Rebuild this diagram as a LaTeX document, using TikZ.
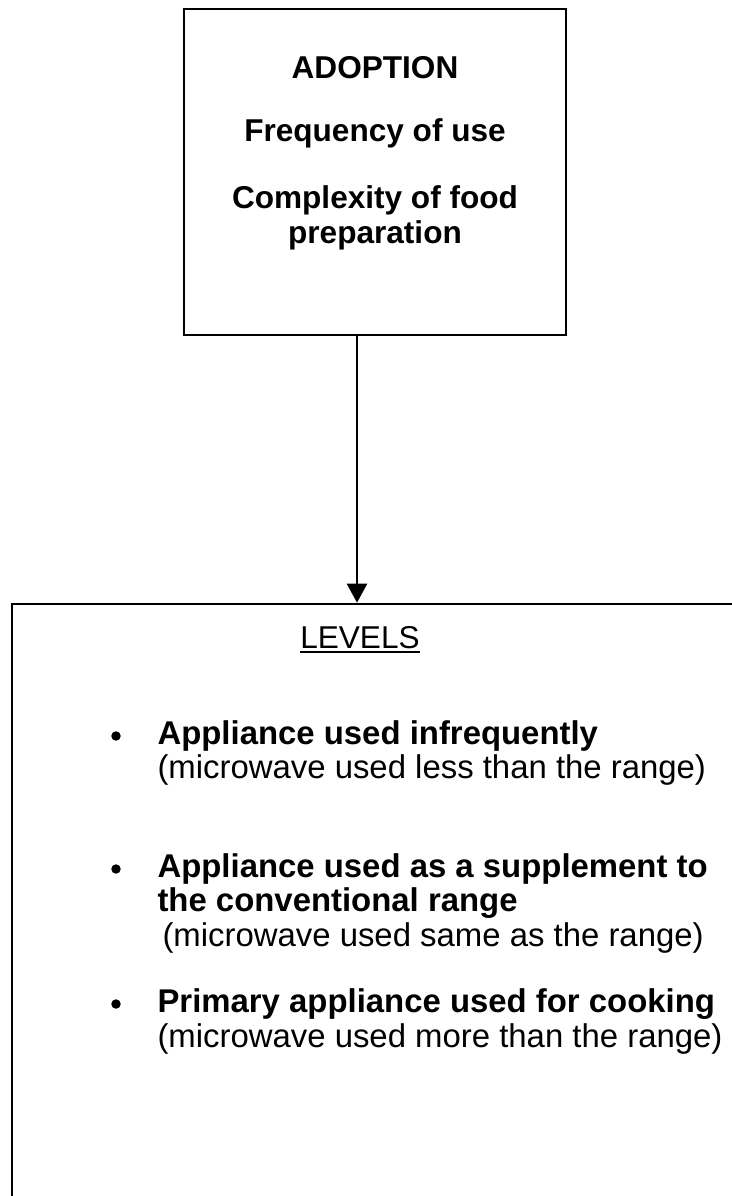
\documentclass[tikz,border=0pt]{standalone}
\usepackage{fontspec}
\setmainfont{Liberation Sans}
\usepackage{tikz}
\usetikzlibrary{arrows.meta,fit}
\tikzstyle{frame} = [draw, line width=1pt, inner sep=0pt]
\tikzstyle{head} = [anchor=base, inner sep=0pt, font=\fontsize{12}{14}\selectfont\bfseries]
\tikzstyle{item} = [anchor=base west, inner sep=0pt, font=\fontsize{12.5}{15}\selectfont\bfseries]
\tikzstyle{note} = [anchor=base west, inner sep=0pt, font=\fontsize{12.5}{15}\selectfont]
\tikzstyle{dot} = [circle, fill, inner sep=0pt, minimum size=3.6pt]
\tikzstyle{arrow} = [-{Triangle[width=7.6pt,length=7.2pt]}, line width=0.9pt]

\begin{document}
\begin{tikzpicture}[x=0.38pt, y=-0.38pt]
		\useasboundingbox (0,0) rectangle (732,1196);
		\node [frame, fit={(184,9) (566,335)}] (adopt) {};
		\node [frame, fit={(12,604) (770,1240)}] (levels) {};

		\node [head] (title) at (375,78) {ADOPTION};
		\node [head] (freq) at (375,141) {Frequency of use};
		\node [head] (compa) at (375,208) {Complexity of food};
		\node [head] (compb) at (375,243) {preparation};

		\node [head, font=\fontsize{12}{14}\selectfont] (levtitle) at (360,648) {\underline{LEVELS}};

		\node [item] (ia) at (157,744) {Appliance used infrequently};
		\node [note] (na) at (157,778) {(microwave used less than the range)};
		\node [item] (ib) at (157,877) {Appliance used as a supplement to};
		\node [item] (ibb) at (157,911) {the conventional range};
		\node [note] (nb) at (162,946) {(microwave used same as the range)};
		\node [item] (ic) at (157,1012) {Primary appliance used for cooking};
		\node [note] (nc) at (157,1047) {(microwave used more than the range)};

		\node [dot] (da) at (116,736) {};
		\node [dot] (db) at (116,869) {};
		\node [dot] (dc) at (116,1004) {};

		\coordinate (stem) at (357,0);
		\draw [arrow] (stem |- adopt.south) -- (stem |- levels.north);
\end{tikzpicture}
\end{document}
